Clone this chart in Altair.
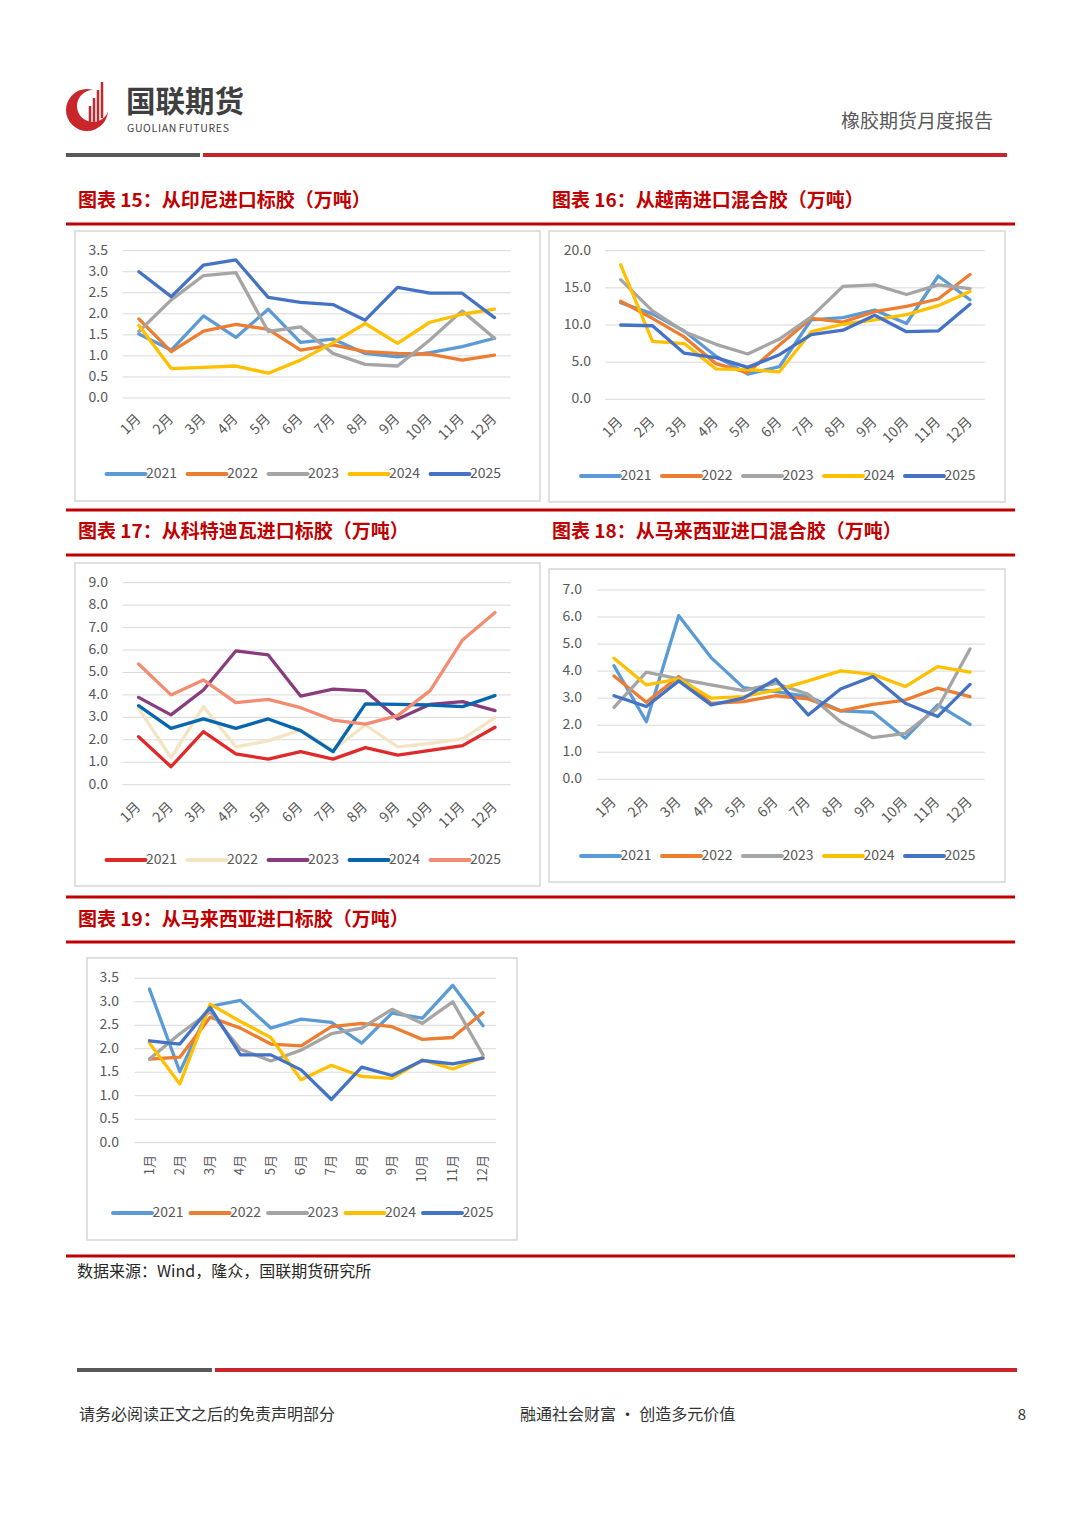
import altair as alt
import pandas as pd

FONT = "Noto Sans CJK SC"
AX = "#595959"

months = ["1月", "2月", "3月", "4月", "5月", "6月", "7月", "8月", "9月", "10月", "11月", "12月"]
years = ["2021", "2022", "2023", "2024", "2025"]

# 图表15 从印尼进口标胶（万吨）
idn_2021 = [1.52, 1.14, 1.95, 1.44, 2.11, 1.32, 1.40, 1.06, 0.98, 1.08, 1.22, 1.42]
idn_2022 = [1.88, 1.10, 1.59, 1.75, 1.63, 1.14, 1.26, 1.10, 1.06, 1.04, 0.90, 1.02]
idn_2023 = [1.58, 2.33, 2.91, 2.98, 1.58, 1.69, 1.06, 0.80, 0.76, 1.38, 2.07, 1.42]
idn_2024 = [1.72, 0.70, 0.73, 0.76, 0.59, 0.90, 1.31, 1.77, 1.30, 1.80, 1.99, 2.11]
idn_2025 = [3.00, 2.41, 3.16, 3.28, 2.39, 2.27, 2.22, 1.85, 2.63, 2.49, 2.49, 1.91]

# 图表16 从越南进口混合胶（万吨）
vnm_2021 = [13.0, 11.5, 9.2, 5.8, 3.4, 4.4, 10.7, 11.0, 12.0, 10.2, 16.6, 13.4]
vnm_2022 = [13.2, 10.9, 8.4, 4.8, 3.6, 7.3, 10.9, 10.4, 11.8, 12.5, 13.5, 16.8]
vnm_2023 = [16.1, 11.9, 9.1, 7.4, 6.1, 8.1, 11.1, 15.2, 15.4, 14.1, 15.4, 14.9]
vnm_2024 = [18.1, 7.8, 7.5, 4.1, 4.0, 3.7, 9.1, 10.1, 10.7, 11.4, 12.6, 14.5]
vnm_2025 = [10.0, 9.9, 6.2, 5.6, 4.3, 6.0, 8.7, 9.3, 11.3, 9.1, 9.2, 12.8]

# 图表17 从科特迪瓦进口标胶（万吨）
civ_2021 = [2.14, 0.80, 2.36, 1.37, 1.14, 1.47, 1.14, 1.65, 1.32, 1.53, 1.74, 2.56]
civ_2022 = [3.40, 1.20, 3.48, 1.69, 1.95, 2.44, 1.55, 2.66, 1.69, 1.84, 2.04, 2.99]
civ_2023 = [3.89, 3.11, 4.22, 5.96, 5.78, 3.95, 4.26, 4.18, 2.93, 3.58, 3.70, 3.30]
civ_2024 = [3.52, 2.51, 2.93, 2.51, 2.93, 2.41, 1.47, 3.60, 3.58, 3.55, 3.48, 3.97]
civ_2025 = [5.38, 4.00, 4.67, 3.66, 3.80, 3.43, 2.88, 2.70, 3.08, 4.19, 6.45, 7.67]

# 图表18 从马来西亚进口混合胶（万吨）
mysm_2021 = [4.20, 2.13, 6.05, 4.50, 3.39, 3.24, 3.06, 2.53, 2.48, 1.52, 2.75, 2.03]
mysm_2022 = [3.82, 2.85, 3.80, 2.81, 2.87, 3.09, 2.97, 2.53, 2.77, 2.93, 3.37, 3.06]
mysm_2023 = [2.66, 3.96, 3.71, 3.49, 3.28, 3.55, 3.14, 2.13, 1.54, 1.70, 2.63, 4.82]
mysm_2024 = [4.48, 3.49, 3.71, 3.00, 3.06, 3.30, 3.64, 4.01, 3.88, 3.43, 4.17, 3.96]
mysm_2025 = [3.09, 2.69, 3.64, 2.75, 3.00, 3.70, 2.38, 3.34, 3.80, 2.81, 2.32, 3.51]

# 图表19 从马来西亚进口标胶（万吨）
myst_2021 = [3.27, 1.51, 2.90, 3.03, 2.44, 2.63, 2.56, 2.12, 2.76, 2.65, 3.35, 2.49]
myst_2022 = [1.78, 1.82, 2.67, 2.44, 2.10, 2.06, 2.47, 2.54, 2.47, 2.20, 2.24, 2.77]
myst_2023 = [1.78, 2.32, 2.79, 1.99, 1.74, 1.97, 2.32, 2.44, 2.84, 2.54, 3.00, 1.87]
myst_2024 = [2.12, 1.25, 2.95, 2.58, 2.24, 1.34, 1.65, 1.41, 1.37, 1.76, 1.57, 1.82]
myst_2025 = [2.17, 2.10, 2.88, 1.87, 1.87, 1.55, 0.92, 1.61, 1.43, 1.75, 1.68, 1.80]

ticks_15 = [0.0, 0.5, 1.0, 1.5, 2.0, 2.5, 3.0, 3.5]
ticks_16 = [0.0, 5.0, 10.0, 15.0, 20.0]
ticks_17 = [0.0, 1.0, 2.0, 3.0, 4.0, 5.0, 6.0, 7.0, 8.0, 9.0]
ticks_18 = [0.0, 1.0, 2.0, 3.0, 4.0, 5.0, 6.0, 7.0]
ticks_19 = [0.0, 0.5, 1.0, 1.5, 2.0, 2.5, 3.0, 3.5]

office_colors = ["#5B9BD5", "#ED7D31", "#A5A5A5", "#FFC000", "#4472C4"]
civ_colors = ["#E02A2A", "#F3E5C3", "#893C7C", "#0766AD", "#F28C73"]

titles = [
    (78, 201, "图表 15：从印尼进口标胶（万吨）"),
    (552, 201, "图表 16：从越南进口混合胶（万吨）"),
    (78, 532, "图表 17：从科特迪瓦进口标胶（万吨）"),
    (552, 532, "图表 18：从马来西亚进口混合胶（万吨）"),
    (78, 920, "图表 19：从马来西亚进口标胶（万吨）"),
]


def P(v):
    return v - 8


# ---------- page decorations ----------
def text_layer(rows, **kw):
    df = pd.DataFrame(rows, columns=["x", "y", "t"])
    df["x"] = df["x"] - 8
    df["y"] = df["y"] - 8
    return alt.Chart(df).mark_text(font=FONT, baseline="middle", **kw).encode(
        x=alt.X("x:Q", scale=None), y=alt.Y("y:Q", scale=None), text="t:N")


boxes = pd.DataFrame({
    "x": [75, 549, 75, 549, 87], "x2": [540, 1005, 540, 1005, 517],
    "y": [231, 231, 563, 569, 958], "y2": [501, 502, 886, 882, 1240]})
for c in ["x", "x2", "y", "y2"]:
    boxes[c] = boxes[c] - 8
box_layer = alt.Chart(boxes).mark_rect(fill="white", stroke="#D6D6D6", strokeWidth=1.5).encode(
    x=alt.X("x:Q", scale=None), x2="x2:Q", y=alt.Y("y:Q", scale=None), y2="y2:Q")

rules = pd.DataFrame([
    (66, 200, 155, "#595959", 4), (203, 1007, 155, "#C8262B", 4),
    (66, 1015, 224, "#C00000", 3), (66, 1015, 510, "#C00000", 3),
    (66, 1015, 555, "#C00000", 3), (66, 1015, 897, "#C00000", 3),
    (66, 1015, 942, "#C00000", 3), (66, 1015, 1256, "#C00000", 3),
    (77, 212, 1370, "#595959", 4), (215, 1017, 1370, "#C8262B", 4),
], columns=["x", "x2", "y", "c", "w"])
for c in ["x", "x2", "y"]:
    rules[c] = rules[c] - 8
rule_layer = alt.Chart(rules).mark_rule().encode(
    x=alt.X("x:Q", scale=None), x2="x2:Q", y=alt.Y("y:Q", scale=None),
    color=alt.Color("c:N", scale=None), strokeWidth=alt.StrokeWidth("w:Q", scale=None))

logo_disks = pd.DataFrame({"x": [87 - 8, 93 - 8], "y": [110 - 8, 106 - 8],
                           "c": ["#C8262B", "white"], "s": [42 * 42, 32 * 32]})
disk_layer = alt.Chart(logo_disks).mark_point(shape="circle", filled=True, opacity=1).encode(
    x=alt.X("x:Q", scale=None), y=alt.Y("y:Q", scale=None),
    color=alt.Color("c:N", scale=None), size=alt.Size("s:Q", scale=None))
stripes = pd.DataFrame({"x": [90, 94, 98, 102], "y": [106, 98, 90, 82], "y2": [129, 128, 125, 118]})
for c in ["x", "y", "y2"]:
    stripes[c] = stripes[c] - 8
stripe_layer = alt.Chart(stripes).mark_rule(color="#C8262B", strokeWidth=2.5).encode(
    x=alt.X("x:Q", scale=None), y=alt.Y("y:Q", scale=None), y2="y2:Q")

HS = "\u200a"
guolian = HS.join("GUOLIAN") + "  " + HS.join("FUTURES")

deco = [
    box_layer, rule_layer, disk_layer, stripe_layer,
    text_layer([(126, 103, "国联期货")], fontSize=29.5, fontWeight="bold", color="#3F3F3F", align="left"),
    text_layer([(127, 128.5, guolian)], fontSize=10.5, color="#3F3F3F", align="left"),
    text_layer([(993, 122, "橡胶期货月度报告")], fontSize=19, color="#595959", align="right"),
    text_layer(titles, fontSize=19, fontWeight="bold", color="#C00000", align="left"),
    text_layer([(77, 1272, "数据来源：Wind，隆众，国联期货研究所")], fontSize=16, color="#262626", align="left"),
    text_layer([(79, 1415, "请务必阅读正文之后的免责声明部分"),
                (520, 1415, "融通社会财富 • 创造多元价值")], fontSize=16, color="#333333", align="left"),
    text_layer([(1026, 1415, "8")], fontSize=15, color="#333333", align="right"),
]


# ---------- chart panels ----------
def panel(series_vals, colors, ticks, g):
    rows = []
    for yr, vals in zip(years, series_vals):
        for i, (m, v) in enumerate(zip(months, vals)):
            rows.append({"month": m, "mi": i, "year": yr, "value": v})
    df = pd.DataFrame(rows)
    xs = alt.Scale(type="point", domain=months, range=[P(g["x_first"]), P(g["x_last"])], padding=0)
    ys = alt.Scale(type="linear", domain=[0, ticks[-1]], range=[P(g["y0"]), P(g["ytop"])], nice=False, zero=False)
    cs = alt.Scale(domain=years, range=colors)
    tdf = pd.DataFrame({"t": ticks})
    grid = alt.Chart(tdf).mark_rule(color="#D9D9D9", strokeWidth=1).encode(
        y=alt.Y("t:Q", scale=ys, axis=None),
        x=alt.value(P(g["gx0"])), x2=alt.value(P(g["gx1"])))
    ylab = alt.Chart(tdf).mark_text(align="right", baseline="middle", fontSize=14, color=AX, font=FONT).encode(
        y=alt.Y("t:Q", scale=ys, axis=None), x=alt.value(P(g["ylab_x"])),
        text=alt.Text("t:Q", format=".1f"))
    mdf = pd.DataFrame({"month": months})
    xlab = alt.Chart(mdf).mark_text(align="right", baseline="middle", angle=g["angle"],
                                    fontSize=g["mfs"], color=AX, font=FONT).encode(
        x=alt.X("month:O", scale=xs, axis=None, sort=months),
        y=alt.value(P(g["xlab_y"])), text="month:N")
    lines = alt.Chart(df).mark_line(strokeWidth=3.3, strokeJoin="round", strokeCap="round").encode(
        x=alt.X("month:O", scale=xs, axis=None, sort=months),
        y=alt.Y("value:Q", scale=ys, axis=None),
        color=alt.Color("year:N", scale=cs, legend=None),
        order=alt.Order("mi:Q"))
    ldf = pd.DataFrame({"year": years})
    ls = alt.Scale(type="point", domain=years, range=[P(g["leg_first"]), P(g["leg_last"])], padding=0)
    lsym = alt.Chart(ldf).mark_point(shape="M-1,0L1,0", size=39 * 39, filled=False, opacity=1,
                                     strokeWidth=4, strokeCap="round").encode(
        x=alt.X("year:N", scale=ls, axis=None), y=alt.value(P(g["leg_y"])),
        color=alt.Color("year:N", scale=cs, legend=None))
    ltxt = alt.Chart(ldf).mark_text(align="left", baseline="middle", dx=20, fontSize=14,
                                    color=AX, font=FONT).encode(
        x=alt.X("year:N", scale=ls, axis=None), y=alt.value(P(g["leg_y"])), text="year:N")
    return [grid, ylab, xlab, lines, lsym, ltxt]


g15 = dict(gx0=122.7, gx1=510.7, y0=398, ytop=250.7, x_first=138.9, x_last=494.5, ylab_x=108,
           xlab_y=417, angle=315, mfs=14, leg_y=474, leg_first=126, leg_last=450)
g16 = dict(gx0=605, gx1=984.7, y0=399.3, ytop=250.7, x_first=620.7, x_last=970, ylab_x=591,
           xlab_y=420, angle=315, mfs=14, leg_y=476, leg_first=600.5, leg_last=924.5)
g17 = dict(gx0=122.7, gx1=510.7, y0=784.7, ytop=582.7, x_first=138.6, x_last=495, ylab_x=108,
           xlab_y=805, angle=315, mfs=14, leg_y=860, leg_first=126, leg_last=450)
g18 = dict(gx0=597.3, gx1=984.7, y0=779.3, ytop=590, x_first=614, x_last=970, ylab_x=582,
           xlab_y=800, angle=315, mfs=14, leg_y=856, leg_first=600.5, leg_last=924.5)
g19 = dict(gx0=134.7, gx1=496.3, y0=1142.7, ytop=978.3, x_first=149.5, x_last=483, ylab_x=119,
           xlab_y=1155, angle=270, mfs=13, leg_y=1213, leg_first=132.5, leg_last=442.5)

layers = list(deco)
layers += panel([idn_2021, idn_2022, idn_2023, idn_2024, idn_2025], office_colors, ticks_15, g15)
layers += panel([vnm_2021, vnm_2022, vnm_2023, vnm_2024, vnm_2025], office_colors, ticks_16, g16)
layers += panel([civ_2021, civ_2022, civ_2023, civ_2024, civ_2025], civ_colors, ticks_17, g17)
layers += panel([mysm_2021, mysm_2022, mysm_2023, mysm_2024, mysm_2025], office_colors, ticks_18, g18)
layers += panel([myst_2021, myst_2022, myst_2023, myst_2024, myst_2025], office_colors, ticks_19, g19)

chart = alt.layer(*layers).resolve_scale(
    x="independent", y="independent", color="independent", size="independent",
    strokeWidth="independent"
).properties(
    width=1064, height=1511, padding=0, background="white",
    autosize=alt.AutoSizeParams(type="none")
).configure_view(strokeWidth=0)

chart.save("out.html", embed_options={"renderer": "svg", "actions": False})
